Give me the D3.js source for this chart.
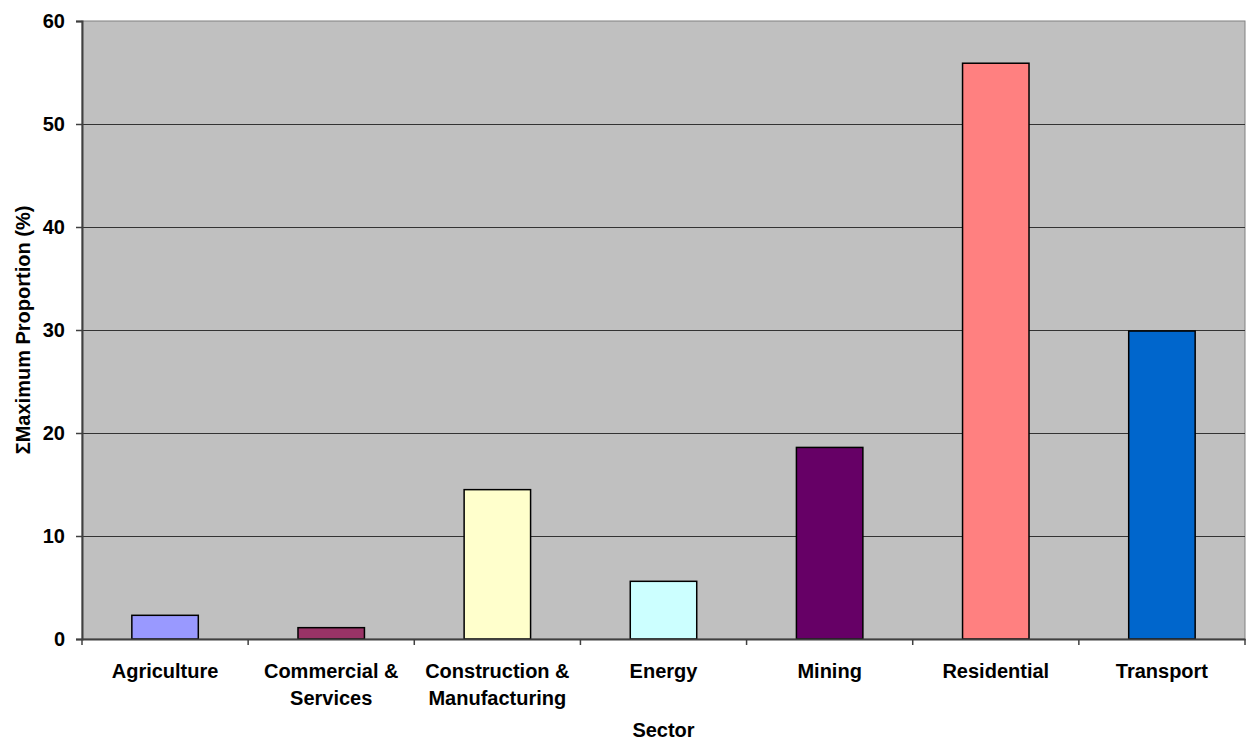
<!DOCTYPE html>
<html>
<head>
<meta charset="utf-8">
<script src="https://cdn.jsdelivr.net/npm/d3@7/dist/d3.min.js"></script>
<style>
  html, body { margin: 0; padding: 0; background: #fff; }
  svg { display: block; }
  text { font-family: "Liberation Sans", Arial, sans-serif; font-weight: bold; fill: #000; }
</style>
</head>
<body>
<svg id="chart" width="1246" height="743"></svg>
<script>
// Sector totals of maximum proportion (%)
const sectors = [
  ["Agriculture"],
  ["Commercial &", "Services"],
  ["Construction &", "Manufacturing"],
  ["Energy"],
  ["Mining"],
  ["Residential"],
  ["Transport"]
];
const values = [2.3, 1.1, 14.5, 5.6, 18.6, 55.9, 29.9];
const colors = ["#9999FF", "#993366", "#FFFFCC", "#CCFFFF", "#660066", "#FF8080", "#0066CC"];
const yTicks = [0, 10, 20, 30, 40, 50, 60];

const svg = d3.select("#chart");
const m = { left: 82, top: 21, right: 1245, bottom: 639 };

const x = d3.scaleBand()
  .domain(d3.range(sectors.length))
  .range([m.left, m.right])
  .paddingInner(0).paddingOuter(0);
const y = d3.scaleLinear().domain([0, 60]).range([m.bottom, m.top]);

// Plot area
svg.append("rect")
  .attr("x", m.left).attr("y", m.top)
  .attr("width", m.right - m.left).attr("height", m.bottom - m.top)
  .attr("fill", "#C0C0C0")
  .attr("stroke", "#808080").attr("stroke-width", 1);

// Gridlines
svg.append("g").selectAll("line")
  .data(yTicks.filter(t => t > 0 && t < 60))
  .join("line")
  .attr("x1", m.left).attr("x2", m.right)
  .attr("y1", d => Math.round(y(d)) + 0.5).attr("y2", d => Math.round(y(d)) + 0.5)
  .attr("stroke", "#333").attr("stroke-width", 1);

// Bars
const bw = x.bandwidth() * 0.4;
svg.append("g").selectAll("rect")
  .data(values)
  .join("rect")
  .attr("x", (d, i) => x(i) + (x.bandwidth() - bw) / 2)
  .attr("y", d => y(d))
  .attr("width", bw)
  .attr("height", d => y(0) - y(d))
  .attr("fill", (d, i) => colors[i])
  .attr("stroke", "#000").attr("stroke-width", 1.5);

// Y axis
const yAxis = svg.append("g")
  .attr("transform", `translate(${m.left},0)`)
  .call(d3.axisLeft(y).tickValues(yTicks).tickSize(6).tickPadding(11));
yAxis.select(".domain").attr("stroke", "#404040").attr("stroke-width", 2);
yAxis.selectAll(".tick line").attr("stroke", "#404040").attr("stroke-width", 1.5);
yAxis.selectAll(".tick text")
  .style("font-size", "20px").style("font-family", "Liberation Sans, Arial, sans-serif")
  .style("font-weight", "bold").attr("fill", "#000");

// X axis
const xAxis = svg.append("g")
  .attr("transform", `translate(0,${m.bottom})`)
  .call(d3.axisBottom(x).tickValues([]).tickSizeOuter(0));
xAxis.select(".domain").attr("stroke", "#404040").attr("stroke-width", 2);
xAxis.selectAll(".sep")
  .data(d3.range(sectors.length + 1))
  .join("line")
  .attr("class", "sep")
  .attr("x1", i => (i < sectors.length ? x(i) : m.right))
  .attr("x2", i => (i < sectors.length ? x(i) : m.right))
  .attr("y1", 0).attr("y2", 6)
  .attr("stroke", "#404040").attr("stroke-width", 1.5);

// Category labels
const lab = svg.append("g").selectAll("text")
  .data(sectors)
  .join("text")
  .attr("text-anchor", "middle")
  .attr("x", (d, i) => x(i) + x.bandwidth() / 2)
  .attr("y", 678)
  .style("font-size", "20px");
lab.selectAll("tspan")
  .data(d => d)
  .join("tspan")
  .attr("x", function () { return d3.select(this.parentNode).attr("x"); })
  .attr("dy", (d, i) => (i === 0 ? 0 : 27))
  .text(d => d);

// Axis titles
svg.append("text")
  .attr("x", (m.left + m.right) / 2).attr("y", 737)
  .attr("text-anchor", "middle")
  .style("font-size", "20px")
  .text("Sector");
svg.append("text")
  .attr("transform", `translate(30,${(m.top + m.bottom) / 2}) rotate(-90)`)
  .attr("text-anchor", "middle")
  .style("font-size", "20px")
  .text("ΣMaximum Proportion (%)");
</script>
</body>
</html>
